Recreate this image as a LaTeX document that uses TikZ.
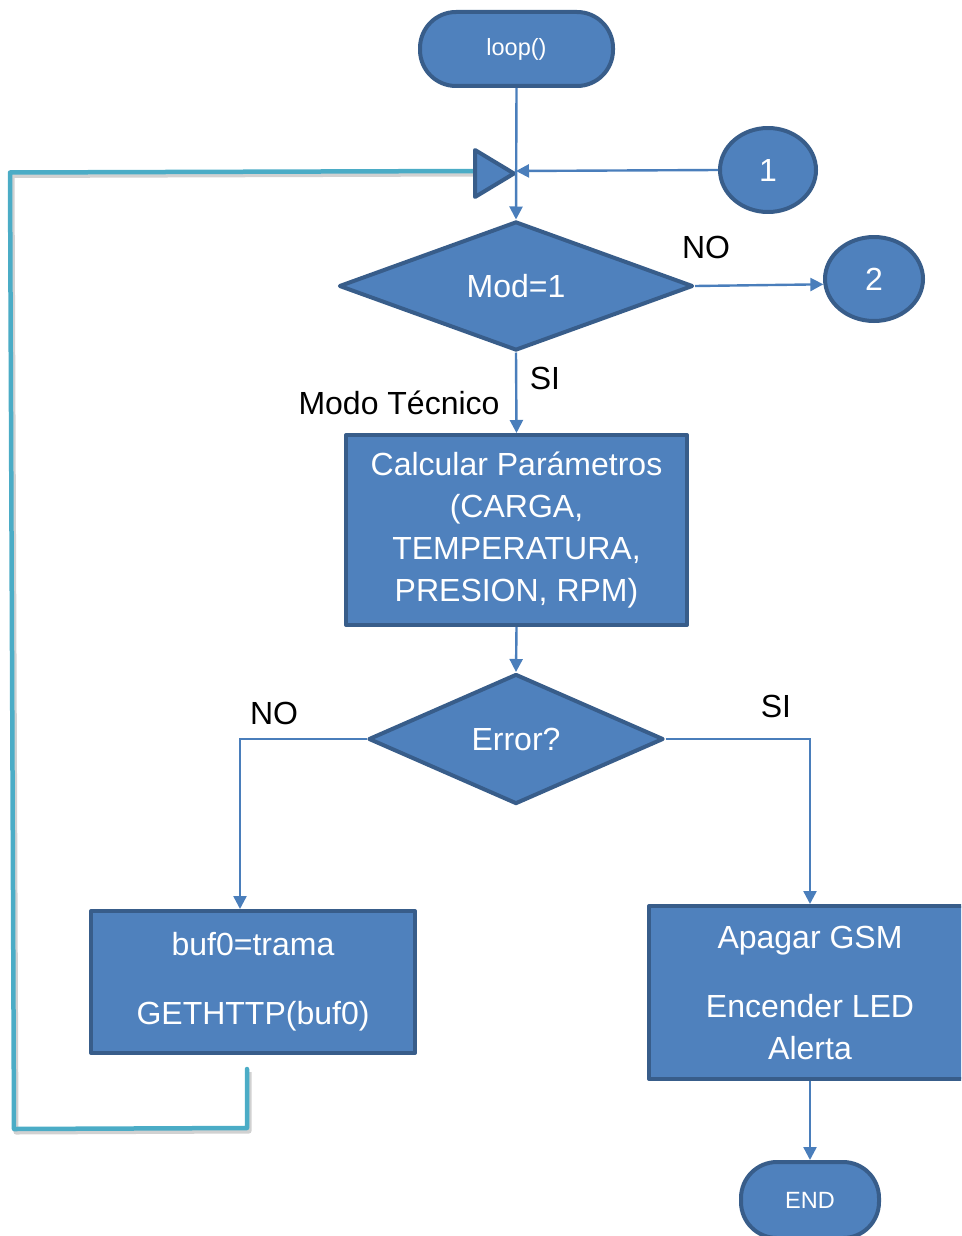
\documentclass[tikz,border=0pt]{standalone}
\usepackage{fontspec}
\setmainfont{Liberation Sans}
\usetikzlibrary{shapes.geometric,arrows.meta}
\definecolor{boxfill}{HTML}{4F81BD}
\definecolor{boxline}{HTML}{385D8A}
\definecolor{wire}{HTML}{4A7EBB}
\definecolor{loopline}{HTML}{4BACC6}

\begin{document}
\begin{tikzpicture}[x=1pt,y=-1pt,
  every node/.style={font=\fontsize{32}{42}\selectfont},
  blk/.style={draw=boxline, fill=boxfill, line width=4pt, line join=round,
    text=white, inner sep=0pt, align=center},
  term/.style={blk, rounded corners=36pt, font=\fontsize{23.5}{28}\selectfont},
  proc/.style={blk},
  decision/.style={blk, diamond},
  connector/.style={blk, ellipse},
  conn/.style={draw=wire, line width=2.4pt, -{Triangle[length=13pt,width=13pt]}},
  lbl/.style={text=black, inner sep=0pt},
  back/.style={draw=loopline, line width=4.5pt, line join=round, line cap=round},
  backshade/.style={draw=black, opacity=0.18, line width=5pt, line join=round}
]
\useasboundingbox (0,0) rectangle (961,1236);
\clip (0,0) rectangle (961,1236);

% feedback path back to the top of the loop (drawn first, under the shapes)
\coordinate (ret0) at (247,1069);
\coordinate (ret1) at (247,1128);
\coordinate (ret2) at (14,1129);
\coordinate (ret3) at (10,172.5);
\coordinate (ret4) at (476,171);
\draw[backshade] ([shift={(2,3)}]ret0) -- ([shift={(2,3)}]ret1) -- ([shift={(2,3)}]ret2) -- ([shift={(2,3)}]ret3) -- ([shift={(2,3)}]ret4);
\draw[back] (ret0) -- (ret1) -- (ret2) -- (ret3) -- (ret4);

% nodes
\node[term, minimum width=193pt, minimum height=74pt] (loop) at (516.5,49) {loop()};
\node[connector, minimum width=96pt, minimum height=84pt] (c1) at (768,170) {1};
\node[decision, minimum width=354pt, minimum height=129pt] (mod) at (516,286) {Mod=1};
\node[connector, minimum width=98pt, minimum height=84pt] (c2) at (874,279) {2};
\node[proc, minimum width=341pt, minimum height=190pt] (calc) at (516.5,530)
  {Calcular Parámetros\\(CARGA,\\TEMPERATURA,\\PRESION, RPM)};
\node[decision, minimum width=295pt, minimum height=130pt] (err) at (516,739) {Error?};
\node[proc, minimum width=324pt, minimum height=142pt] (buf) at (253,982)
  {buf0=trama\\[27pt]GETHTTP(buf0)};
\node[proc, minimum width=322pt, minimum height=173pt] (gsm) at (810,992.5)
  {Apagar GSM\\[27pt]Encender LED\\Alerta};
\node[term, minimum width=138pt, minimum height=76pt] (fin) at (810,1200) {END};

% merge point of the loop
\coordinate (join) at (516,171);
\draw[blk] (475,150) -- (514,173.5) -- (475,197) -- cycle;

% connectors
\draw[conn] (loop.south) -- (mod.north);
\draw[conn] (c1.west) -- (join);
\draw[conn] (mod.east) -- (c2.186);
\draw[conn] (mod.south) -- (calc.north);
\draw[conn] (calc.south) -- (err.north);
\draw[conn] (err.west) -| ([xshift=-13pt]buf.north);
\draw[conn] (err.east) -| (gsm.north);
\draw[conn] (gsm.south) -- (fin.north);

% branch labels
\node[lbl] (noA) at (706,247) {NO};
\node[lbl] (siA) at (545,378) {SI};
\node[lbl] (modo) at (399,403) {Modo Técnico};
\node[lbl] (noB) at (274,713) {NO};
\node[lbl] (siB) at (776,706) {SI};
\end{tikzpicture}
\end{document}
